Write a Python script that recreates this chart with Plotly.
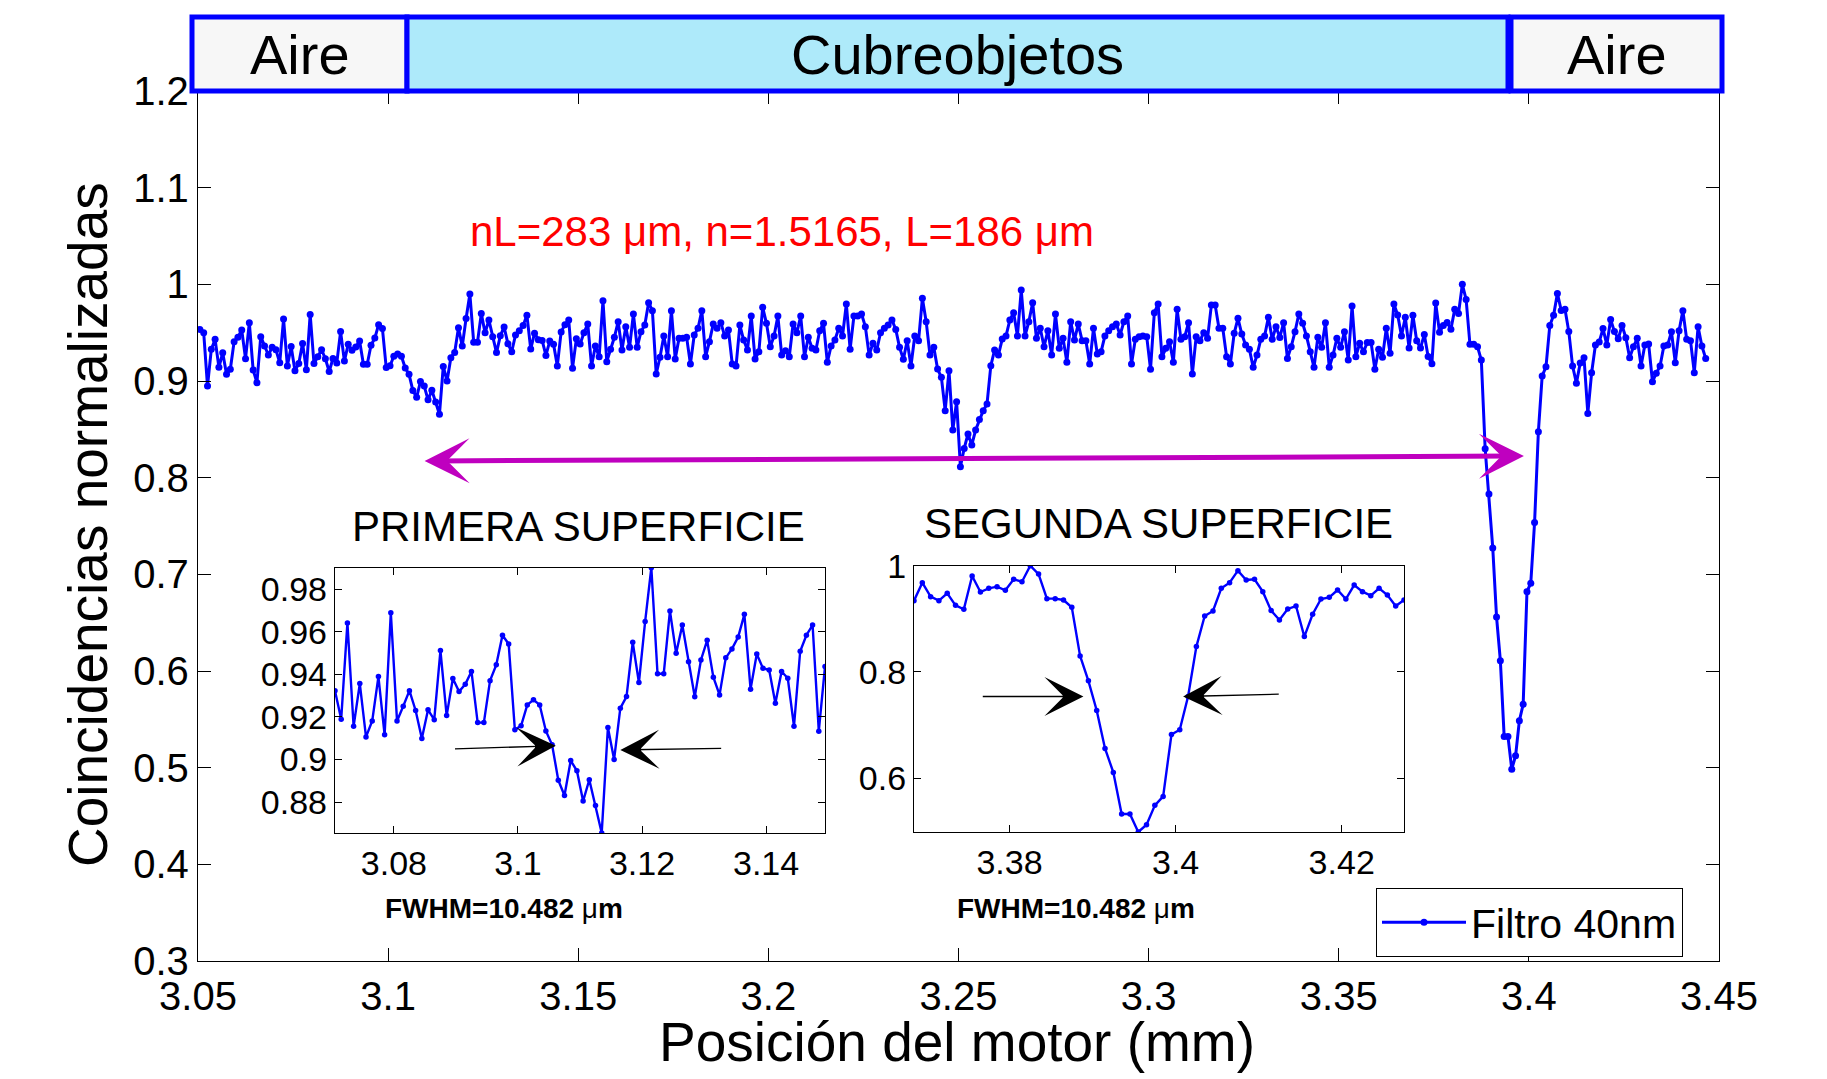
import numpy as np
import plotly.graph_objects as go

# ---------------- data ----------------
# motor scan: uniform 1 um step
X_START = 3.0505
X_STEP = 0.001

# normalised coincidences, in scan order
COINC_A = [0.9534, 0.950, 0.8948, 0.9328, 0.9431, 0.9141, 0.9293, 0.9069, 0.9121, 0.9407,
           0.9452, 0.9528, 0.9231, 0.9603, 0.9114, 0.8983, 0.9459, 0.9362, 0.9269, 0.9348]
COINC_PRIMERA = [0.9322, 0.9189, 0.9641, 0.9156, 0.9356, 0.9106, 0.9181, 0.9389, 0.9116, 0.9689,
                 0.9181, 0.925, 0.9323, 0.923, 0.9098, 0.9233, 0.9187, 0.9511, 0.9206, 0.938,
                 0.9319, 0.9353, 0.9413, 0.9173, 0.9173, 0.937, 0.9444, 0.9583, 0.9542, 0.9139,
                 0.9158, 0.9256, 0.928, 0.9256, 0.9134, 0.9069, 0.8903, 0.8831, 0.8995, 0.8947,
                 0.8805, 0.8905, 0.8784, 0.8655, 0.915, 0.90, 0.9241, 0.9295, 0.955, 0.9361,
                 0.9647, 0.99, 0.9402, 0.9402, 0.9697, 0.9498, 0.9631, 0.9459, 0.9294, 0.9467,
                 0.9559, 0.9386, 0.9303, 0.9477, 0.9519, 0.9575, 0.9681, 0.933, 0.9495, 0.9428,
                 0.942, 0.9264, 0.9413, 0.9381, 0.9156, 0.9508, 0.9583, 0.9631, 0.9133, 0.9436]
COINC_B = [0.9383, 0.950, 0.959, 0.9155, 0.9362, 0.9252, 0.9831, 0.92, 0.9328, 0.9452,
           0.9614, 0.9321, 0.9562, 0.9348, 0.9693, 0.9348, 0.951, 0.9579, 0.981, 0.9728,
           0.9072, 0.9245, 0.9466, 0.9252, 0.9728, 0.9228, 0.9441, 0.9441, 0.9452, 0.9176,
           0.9476, 0.9545, 0.9728, 0.9252, 0.9407, 0.959, 0.9545, 0.9603, 0.9466, 0.9528,
           0.9176, 0.9155, 0.9579]
COINC_C = [0.9424, 0.9321, 0.9672, 0.9228, 0.9303, 0.9762, 0.9597, 0.9355, 0.9466, 0.9672,
           0.9269, 0.9314, 0.9252, 0.959, 0.95, 0.9672, 0.9252, 0.9452, 0.9338, 0.9321,
           0.9521, 0.9597, 0.9193, 0.9362, 0.9424, 0.9545, 0.9466, 0.9797, 0.9328, 0.9672,
           0.9672, 0.9693, 0.9562, 0.9269, 0.939, 0.9321, 0.95, 0.9545, 0.9579, 0.9631,
           0.9534, 0.9348, 0.9224, 0.9417, 0.9155, 0.9466, 0.9417, 0.9855, 0.9614, 0.9269,
           0.9348, 0.9124, 0.9038, 0.8693, 0.9107, 0.8493, 0.8786, 0.8114, 0.8303, 0.8452,
           0.8338, 0.8493, 0.8603, 0.8693, 0.8762, 0.9159, 0.9321, 0.9269, 0.9434, 0.9466,
           0.9631, 0.9707, 0.9466, 0.9941, 0.9466, 0.9614, 0.981, 0.9441, 0.9545, 0.9355,
           0.9521, 0.9269, 0.9693, 0.9338, 0.9441, 0.9193, 0.9614, 0.9424, 0.959, 0.9417,
           0.9417, 0.9176, 0.9545, 0.9279, 0.9303, 0.9466, 0.9521, 0.9562, 0.959, 0.9476,
           0.9614, 0.9672, 0.9176, 0.9431, 0.9459, 0.9466, 0.9459, 0.9121, 0.9707, 0.9797,
           0.9252, 0.9338, 0.9407, 0.9193, 0.9741, 0.9431, 0.9459, 0.9603, 0.9072, 0.9459,
           0.9417, 0.95, 0.9441, 0.9786, 0.9786, 0.9545, 0.9545, 0.9252, 0.9176, 0.9493,
           0.9648, 0.9486, 0.9372, 0.9328, 0.9141, 0.9269]
COINC_D = [0.9431, 0.9466, 0.9659, 0.9431, 0.9562, 0.945, 0.9603, 0.9234, 0.9355, 0.951,
           0.9693, 0.9597, 0.9466, 0.9303, 0.9141, 0.9452, 0.9348, 0.9603, 0.9141, 0.9269,
           0.9441, 0.9348, 0.951, 0.9217, 0.9776, 0.9252, 0.939, 0.9303, 0.9397, 0.9397,
           0.9121, 0.9328, 0.9245, 0.9545, 0.9286, 0.9797, 0.9683, 0.9466, 0.9659]
COINC_SEGUNDA = [0.9342, 0.968, 0.9417, 0.9342, 0.948, 0.9254, 0.9179, 0.9806, 0.9505, 0.9574,
                 0.9605, 0.9536, 0.9743, 0.9699, 1.0, 0.9843, 0.9379, 0.9379, 0.9354, 0.9216,
                 0.830, 0.7831, 0.7273, 0.6558, 0.6107, 0.5323, 0.5323, 0.4984, 0.5122, 0.5486,
                 0.5655, 0.6821, 0.6909, 0.7536, 0.8476, 0.9053, 0.9147, 0.9574, 0.968, 0.9906,
                 0.973, 0.9743, 0.9511, 0.9154, 0.8978, 0.9185, 0.9241, 0.8665, 0.9085, 0.9373,
                 0.9404, 0.9542, 0.9373, 0.9636, 0.9511, 0.9436, 0.9574, 0.9448, 0.9241, 0.9354]
COINC_E = [0.9441, 0.9155, 0.9372, 0.9383, 0.8993, 0.9079, 0.9155, 0.9362, 0.9372, 0.951,
           0.919, 0.9521, 0.9728, 0.9431, 0.9417, 0.9086, 0.9562, 0.9362, 0.9234]

SERIES_NAME = "Filtro 40nm"

MAIN_X_TICKS = [3.05, 3.1, 3.15, 3.2, 3.25, 3.3, 3.35, 3.4, 3.45]
MAIN_X_LABELS = ["3.05", "3.1", "3.15", "3.2", "3.25", "3.3", "3.35", "3.4", "3.45"]
MAIN_Y_TICKS = [0.3, 0.4, 0.5, 0.6, 0.7, 0.8, 0.9, 1.0, 1.1, 1.2]
MAIN_Y_LABELS = ["0.3", "0.4", "0.5", "0.6", "0.7", "0.8", "0.9", "1", "1.1", "1.2"]
IN1_X_TICKS = [3.08, 3.1, 3.12, 3.14]
IN1_X_LABELS = ["3.08", "3.1", "3.12", "3.14"]
IN1_Y_TICKS = [0.88, 0.9, 0.92, 0.94, 0.96, 0.98]
IN1_Y_LABELS = ["0.88", "0.9", "0.92", "0.94", "0.96", "0.98"]
IN2_X_TICKS = [3.38, 3.4, 3.42]
IN2_X_LABELS = ["3.38", "3.4", "3.42"]
IN2_Y_TICKS = [0.6, 0.8, 1.0]
IN2_Y_LABELS = ["0.6", "0.8", "1"]

REGION_NAMES = ["Aire", "Cubreobjetos", "Aire"]

coinc = np.array(COINC_A + COINC_PRIMERA + COINC_B + COINC_C + COINC_D + COINC_SEGUNDA + COINC_E)
pos = X_START + X_STEP * np.arange(len(coinc))

# ---------------- layout helpers ----------------
W, H = 1827, 1079
OFF = 8  # page body margin of the html page
FONT = "Liberation Sans, Arial, Helvetica, sans-serif"
BLUE = "#0000ff"


def px(p):
    return (p - OFF) / W


def py(p):
    return 1 - (p - OFF) / H


fig = go.Figure()

fig.add_trace(go.Scatter(x=pos, y=coinc, mode="lines+markers", name=SERIES_NAME,
                         line=dict(color=BLUE, width=3), marker=dict(color=BLUE, size=7),
                         xaxis="x", yaxis="y"))
fig.add_trace(go.Scatter(x=pos, y=coinc, mode="lines+markers", showlegend=False,
                         line=dict(color=BLUE, width=2.4), marker=dict(color=BLUE, size=5.5),
                         xaxis="x2", yaxis="y2"))
fig.add_trace(go.Scatter(x=pos, y=coinc, mode="lines+markers", showlegend=False,
                         line=dict(color=BLUE, width=2.4), marker=dict(color=BLUE, size=5.5),
                         xaxis="x3", yaxis="y3"))


def axis(domain, rng, tv, tt, anchor, size, ticklen):
    return dict(domain=domain, range=rng, tickvals=tv, ticktext=tt, anchor=anchor,
                automargin=False,
                ticks="inside", ticklen=ticklen, tickwidth=1, tickcolor="black",
                showline=True, linecolor="black", linewidth=1.3, mirror="ticks",
                showgrid=False, zeroline=False, tickfont=dict(size=size, color="black", family=FONT))


fig.update_layout(
    width=W, height=H, margin=dict(l=0, r=0, t=0, b=0, autoexpand=False),
    paper_bgcolor="white", plot_bgcolor="white",
    font=dict(family=FONT, color="black"),
    xaxis=axis([px(198), px(1719)], [3.05, 3.45], MAIN_X_TICKS, MAIN_X_LABELS, "y", 40, 13),
    yaxis=axis([py(961), py(91)], [0.3, 1.2], MAIN_Y_TICKS, MAIN_Y_LABELS, "x", 40, 13),
    xaxis2=axis([px(335), px(825)], [3.0705, 3.1495], IN1_X_TICKS, IN1_X_LABELS, "y2", 34, 7),
    yaxis2=axis([py(833), py(567.7)], [0.8655, 0.99], IN1_Y_TICKS, IN1_Y_LABELS, "x2", 34, 7),
    xaxis3=axis([px(914), px(1404)], [3.3685, 3.4275], IN2_X_TICKS, IN2_X_LABELS, "y3", 34, 7),
    yaxis3=axis([py(832), py(565.7)], [0.4984, 1.0], IN2_Y_TICKS, IN2_Y_LABELS, "x3", 34, 7),
    showlegend=True,
    legend=dict(x=px(1376), y=py(888), xanchor="left", yanchor="top",
                bgcolor="white", bordercolor="black", borderwidth=1,
                font=dict(size=41, family=FONT, color="black"), itemwidth=84),
)

# region banners above the axes (pixel edges of each box)
BANNER_PX = [(192, 407), (407, 1508), (1511, 1722)]
fills = ["#f7f7f7", "#aeeafa", "#f7f7f7"]
for name, (x0, x1), fc in zip(REGION_NAMES, BANNER_PX, fills):
    fig.add_shape(type="rect", xref="paper", yref="paper", x0=px(x0), x1=px(x1),
                  y0=py(91), y1=py(17),
                  fillcolor=fc, line=dict(color=BLUE, width=5), layer="above")
    fig.add_annotation(x=px((x0 + x1) / 2), y=py(54), xref="paper", yref="paper", text=name,
                       showarrow=False, font=dict(size=56, color="black"),
                       xanchor="center", yanchor="middle")

ann = []
# axis titles
ann.append(dict(x=px(957), y=py(1042), xref="paper", yref="paper",
                text="Posición del motor (mm)", showarrow=False,
                font=dict(size=55), xanchor="center", yanchor="middle"))
ann.append(dict(x=px(88), y=py(525), xref="paper", yref="paper",
                text="Coincidencias normalizadas", showarrow=False, textangle=-90,
                font=dict(size=55), xanchor="center", yanchor="middle"))
# red note
ann.append(dict(x=px(782), y=py(231), xref="paper", yref="paper",
                text="nL=283 μm, n=1.5165, L=186 μm", showarrow=False,
                font=dict(size=42, color="#ff0000"), xanchor="center", yanchor="middle"))
# inset titles and FWHM
ann.append(dict(x=px(578), y=py(526), xref="paper", yref="paper", text="PRIMERA SUPERFICIE",
                showarrow=False, font=dict(size=42), xanchor="center", yanchor="middle"))
ann.append(dict(x=px(1158), y=py(523), xref="paper", yref="paper", text="SEGUNDA SUPERFICIE",
                showarrow=False, font=dict(size=42), xanchor="center", yanchor="middle"))
FWHM_TEXT = "<b>FWHM=10.482 </b>μ<b>m</b>"
ann.append(dict(x=px(504), y=py(908), xref="paper", yref="paper", text=FWHM_TEXT,
                showarrow=False, font=dict(size=28), xanchor="center", yanchor="middle"))
ann.append(dict(x=px(1076), y=py(908), xref="paper", yref="paper", text=FWHM_TEXT,
                showarrow=False, font=dict(size=28), xanchor="center", yanchor="middle"))

# magenta double arrow: span of the cover slip
ann.append(dict(x=3.3987, y=0.8224, ax=3.1092, ay=0.8173, xref="x", yref="y", axref="x", ayref="y",
                text="", showarrow=True, arrowside="end+start", arrowhead=3, startarrowhead=3,
                arrowsize=1.5, startarrowsize=1.5, arrowwidth=5, arrowcolor="#bf00bf",
                standoff=0, startstandoff=0))

# FWHM marker arrows in insets
FWHM_ARROWS = [
    ("x2", "y2", (3.0896, 0.9050), (3.1061, 0.9064)),
    ("x2", "y2", (3.1330, 0.9052), (3.1165, 0.9045)),
    ("x3", "y3", (3.3766, 0.7536), (3.3889, 0.7536)),
    ("x3", "y3", (3.4126, 0.7580), (3.4009, 0.7536)),
]
for xr, yr, tail, head in FWHM_ARROWS:
    ann.append(dict(x=head[0], y=head[1], ax=tail[0], ay=tail[1], xref=xr, yref=yr,
                    axref=xr, ayref=yr, text="", showarrow=True, arrowhead=3,
                    arrowsize=5, arrowwidth=1.3, arrowcolor="black", standoff=0))

for a in ann:
    fig.add_annotation(**a)

fig.write_html("out.html")
